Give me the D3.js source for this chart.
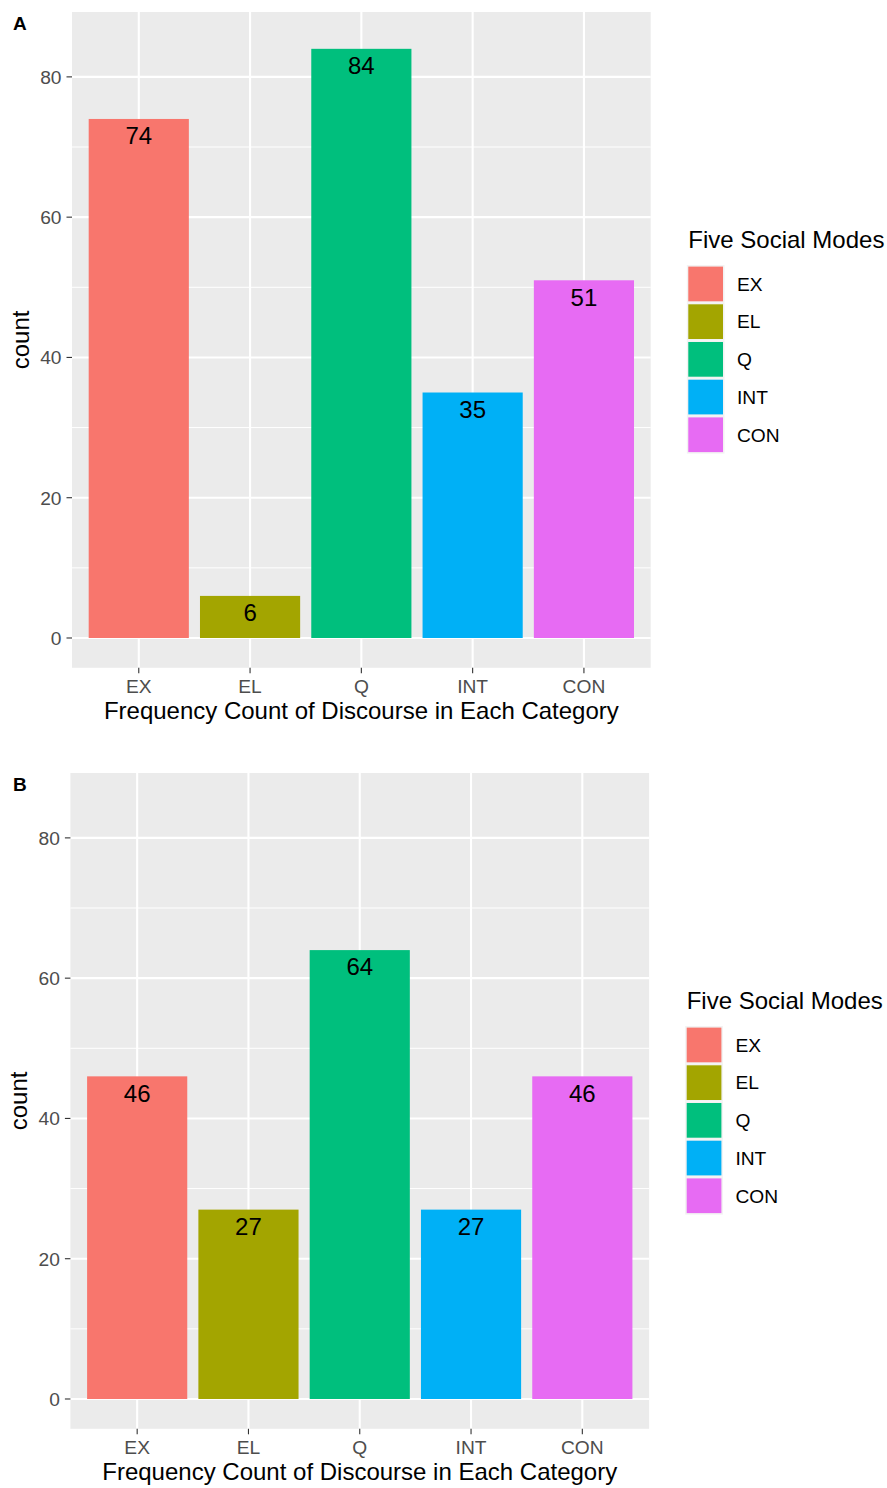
<!DOCTYPE html>
<html>
<head>
<meta charset="utf-8">
<script src="https://cdn.jsdelivr.net/npm/d3@7"></script>
<style>
  html, body { margin: 0; padding: 0; background: #fff; }
  svg { display: block; font-family: "Liberation Sans", Arial, Helvetica, sans-serif; }
</style>
</head>
<body>
<svg id="chart" width="887" height="1488"></svg>
<script>
// Discourse categories and their counts for the two panels
const categories = ["EX", "EL", "Q", "INT", "CON"];
const countsA = [74, 6, 84, 35, 51];
const countsB = [46, 27, 64, 27, 46];
const panelLabels = ["A", "B"];
const yMajorTicks = [0, 20, 40, 60, 80];
const yMinorTicks = [10, 30, 50, 70];
const modeColors = ["#F8766D", "#A3A500", "#00BF7D", "#00B0F6", "#E76BF3"];
const legendTitle = "Five Social Modes";
const xTitle = "Frequency Count of Discourse in Each Category";
const yTitle = "count";

const svg = d3.select("#chart");

function drawPanel(label, values, dx, dy) {
  const g = svg.append("g").attr("transform", `translate(${dx},${dy})`);
  const left = 72, right = 650.7, top = 12, bottom = 667.8;

  const x = d3.scalePoint().domain(categories).range([left, right]).padding(0.6);
  const y = d3.scaleLinear().domain([-4.25, 89.25]).range([bottom, top]);
  const barW = x.step() * 0.9;
  const color = d3.scaleOrdinal().domain(categories).range(modeColors);

  // panel background
  g.append("rect").attr("x", left).attr("y", top)
    .attr("width", right - left).attr("height", bottom - top).attr("fill", "#EBEBEB");

  // grid
  g.selectAll(".ymin").data(yMinorTicks).join("line")
    .attr("x1", left).attr("x2", right)
    .attr("y1", d => y(d)).attr("y2", d => y(d))
    .attr("stroke", "#fff").attr("stroke-width", 1);
  g.selectAll(".ymaj").data(yMajorTicks).join("line")
    .attr("x1", left).attr("x2", right)
    .attr("y1", d => y(d)).attr("y2", d => y(d))
    .attr("stroke", "#fff").attr("stroke-width", 2.1);
  g.selectAll(".xmaj").data(categories).join("line")
    .attr("x1", d => x(d)).attr("x2", d => x(d))
    .attr("y1", top).attr("y2", bottom)
    .attr("stroke", "#fff").attr("stroke-width", 2.1);

  // bars
  g.selectAll(".bar").data(categories).join("rect")
    .attr("x", d => x(d) - barW / 2)
    .attr("width", barW)
    .attr("y", (d, i) => y(values[i]))
    .attr("height", (d, i) => y(0) - y(values[i]))
    .attr("fill", d => color(d));

  // value labels
  g.selectAll(".val").data(categories).join("text")
    .attr("x", d => x(d))
    .attr("y", (d, i) => y(values[i]) + 25.3)
    .attr("text-anchor", "middle")
    .attr("font-size", 24)
    .attr("fill", "#000")
    .text((d, i) => values[i]);

  // y axis ticks and labels
  g.selectAll(".ytick").data(yMajorTicks).join("line")
    .attr("x1", left - 5.5).attr("x2", left)
    .attr("y1", d => y(d)).attr("y2", d => y(d))
    .attr("stroke", "#333").attr("stroke-width", 1.1);
  g.selectAll(".ylab").data(yMajorTicks).join("text")
    .attr("x", left - 10.5)
    .attr("y", d => y(d) + 6.8)
    .attr("text-anchor", "end")
    .attr("font-size", 19.2)
    .attr("fill", "#4D4D4D")
    .text(d => d);

  // x axis ticks and labels
  g.selectAll(".xtick").data(categories).join("line")
    .attr("x1", d => x(d)).attr("x2", d => x(d))
    .attr("y1", bottom).attr("y2", bottom + 5.5)
    .attr("stroke", "#333").attr("stroke-width", 1.1);
  g.selectAll(".xlab").data(categories).join("text")
    .attr("x", d => x(d))
    .attr("y", 693.2)
    .attr("text-anchor", "middle")
    .attr("font-size", 19.2)
    .attr("fill", "#4D4D4D")
    .text(d => d);

  // axis titles
  g.append("text")
    .attr("x", (left + right) / 2).attr("y", 719.3)
    .attr("text-anchor", "middle").attr("font-size", 24).attr("fill", "#000")
    .text(xTitle);
  g.append("text")
    .attr("transform", `translate(28.5,${(top + bottom) / 2}) rotate(-90)`)
    .attr("text-anchor", "middle").attr("font-size", 24).attr("fill", "#000")
    .text(yTitle);

  // panel tag
  g.append("text")
    .attr("x", 13 - dx).attr("y", 30)
    .attr("font-size", 19).attr("font-weight", "bold").attr("fill", "#000")
    .text(label);

  // legend
  const lx = 686.8, ly = 265.1, slot = 37.7;
  g.append("text")
    .attr("x", lx + 1.5).attr("y", 248)
    .attr("font-size", 24).attr("fill", "#000")
    .text(legendTitle);
  const keys = g.selectAll(".key").data(categories).join("g")
    .attr("transform", (d, i) => `translate(${lx},${ly + i * slot})`);
  keys.append("rect")
    .attr("width", slot).attr("height", slot).attr("fill", "#F2F2F2");
  keys.append("rect")
    .attr("x", 1.5).attr("y", 1.5)
    .attr("width", slot - 3).attr("height", slot - 3)
    .attr("fill", d => color(d));
  keys.append("text")
    .attr("x", 50.2).attr("y", slot / 2 + 6.8)
    .attr("font-size", 19.2).attr("fill", "#000")
    .text(d => d);
}

drawPanel(panelLabels[0], countsA, 0, 0);
drawPanel(panelLabels[1], countsB, -1.6, 761);
</script>
</body>
</html>
